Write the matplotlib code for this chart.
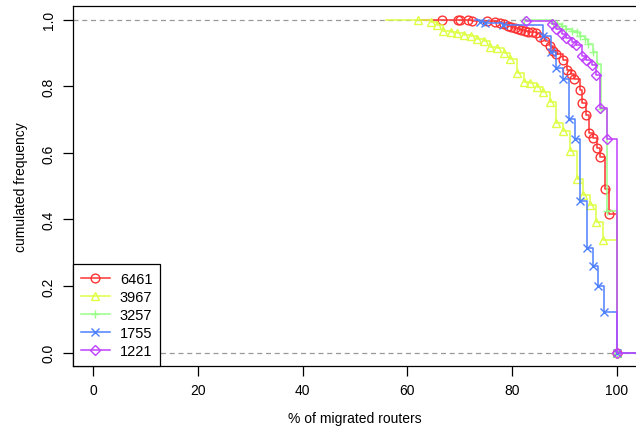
import matplotlib
matplotlib.use("Agg")
import matplotlib.pyplot as plt

plt.rcParams['font.family'] = ['Liberation Sans', 'DejaVu Sans']
plt.rcParams['font.size'] = 10

# series
labels = ["6461", "3967", "3257", "1755", "1221"]
colors = ["#ff3333", "#ddff44", "#99ff88", "#4d80ff", "#c040ff"]
markers = ["o", "^", "+", "x", "D"]
line_start = [62.5, 56.0, 82.2, 72.9, 82.6]

red_x = [66.6, 69.6, 70.0, 71.6, 72.3, 75.3, 76.7, 77.7, 78.5, 79.3, 79.9, 80.6, 81.2, 81.8,
         82.5, 83.1, 83.8, 84.5, 85.3, 86.3, 87.3, 87.9, 88.5, 89.7, 90.6, 91.3, 91.8, 92.9,
         93.4, 94.1, 94.8, 95.5, 96.3, 96.9, 97.8, 98.5, 100]
red_y = [1.0, 1.0, 1.0, 0.998, 0.997, 0.995, 0.992, 0.989, 0.986, 0.982, 0.979, 0.976, 0.973, 0.970,
         0.967, 0.964, 0.962, 0.959, 0.947, 0.937, 0.922, 0.907, 0.897, 0.880, 0.850, 0.837, 0.822, 0.790,
         0.750, 0.714, 0.660, 0.644, 0.615, 0.588, 0.491, 0.417, 0.0]

yellow_x = [62.1, 64.5, 65.7, 66.9, 68.3, 69.5, 70.8, 72.1, 73.4, 74.6, 75.8, 77.2, 78.5, 79.7,
            80.9, 82.3, 83.4, 84.7, 86.0, 87.3, 88.4, 89.7, 91.1, 92.4, 93.6, 94.9, 96.0, 97.4, 100]
yellow_y = [1.0, 0.994, 0.984, 0.967, 0.964, 0.959, 0.955, 0.950, 0.942, 0.936, 0.919, 0.914, 0.900, 0.882,
            0.840, 0.814, 0.810, 0.799, 0.782, 0.754, 0.690, 0.667, 0.607, 0.522, 0.474, 0.445, 0.393, 0.338, 0.0]

green_x = [82.2, 87.9, 88.6, 89.5, 90.4, 91.4, 92.4, 93.0, 93.9, 94.6, 95.5, 96.2, 97.1, 98.1, 100]
green_y = [1.0, 0.990, 0.986, 0.982, 0.972, 0.967, 0.962, 0.952, 0.942, 0.927, 0.902, 0.867, 0.732, 0.426, 0.0]

blue_x = [73.9, 74.8, 78.3, 86.0, 87.4, 88.5, 89.7, 90.8, 92.0, 93.0, 94.3, 95.4, 96.5, 97.6, 100]
blue_y = [0.994, 0.990, 0.983, 0.950, 0.902, 0.854, 0.822, 0.702, 0.642, 0.455, 0.314, 0.261, 0.201, 0.121, 0.0]

purple_x = [82.6, 87.6, 88.5, 89.5, 90.4, 91.4, 92.2, 93.3, 94.1, 95.2, 96.0, 96.9, 98.1, 100]
purple_y = [0.997, 0.987, 0.972, 0.957, 0.944, 0.934, 0.924, 0.890, 0.880, 0.864, 0.834, 0.734, 0.642, 0.0]

series_x = [red_x, yellow_x, green_x, blue_x, purple_x]
series_y = [red_y, yellow_y, green_y, blue_y, purple_y]

x_ticks = [0, 20, 40, 60, 80, 100]
y_ticks = [0.0, 0.2, 0.4, 0.6, 0.8, 1.0]
x_lim = (-4, 104)
y_lim = (-0.04, 1.04)

fig = plt.figure(figsize=(6.36, 4.39), dpi=100)
ax = fig.add_axes([72.5 / 636, 1 - 367 / 439, (637.6 - 72.5) / 636, (367 - 7.4) / 439])

ax.axhline(0, color="#999999", ls=(0, (4, 3)), lw=0.9, zorder=1)
ax.axhline(1, color="#999999", ls=(0, (4, 3)), lw=0.9, zorder=1)

for i in range(len(labels)):
    xs = [line_start[i]] + series_x[i] + [x_lim[1]]
    ys = [1.0] + series_y[i] + [0.0]
    size = 5 if markers[i] == "D" else 6.3
    ax.step(xs, ys, where="post", color=colors[i], lw=1.1, zorder=2 + i)
    ax.plot(series_x[i], series_y[i], ls="none", marker=markers[i], ms=size,
            mfc="none", mec=colors[i], mew=1.0, zorder=2 + i)
    # proxy for the legend
    ax.plot([], [], color=colors[i], lw=1.1, marker=markers[i], ms=size,
            mfc="none", mec=colors[i], mew=1.0, label=labels[i])

ax.set_xlim(x_lim)
ax.set_ylim(y_lim)
ax.set_xticks(x_ticks)
ax.set_xticklabels([str(t) for t in x_ticks])
ax.set_yticks(y_ticks)
ax.set_yticklabels(["%.1f" % t for t in y_ticks], rotation=90, va="center")
ax.tick_params(direction="out", length=7, width=0.9, pad=5)
for s in ax.spines.values():
    s.set_linewidth(0.9)

ax.set_xlabel("% of migrated routers", labelpad=10)
ax.set_ylabel("cumulated frequency", labelpad=10)

leg = ax.legend(loc="lower left", bbox_to_anchor=(0, 0), borderaxespad=0, fancybox=False,
                edgecolor="black", framealpha=1, handlelength=2.0, handletextpad=0.7,
                labelspacing=0.28, borderpad=0.55, fontsize=10.5)
leg.get_frame().set_linewidth(0.9)

fig.savefig("out.png", dpi=100)
